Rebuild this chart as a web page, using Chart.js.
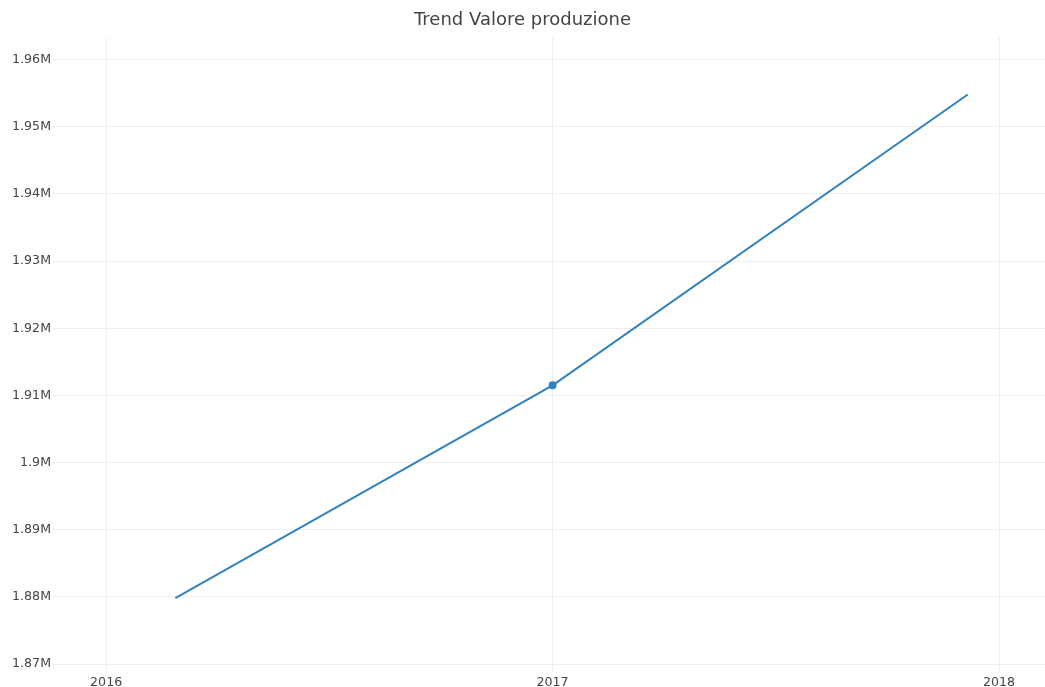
<!DOCTYPE html>
<html lang="it">
<head>
    <meta charset="UTF-8">
    <title>Trend Valore produzione</title>
    <script src="https://cdn.jsdelivr.net/npm/chart.js"></script>
    <style>
        body {
            margin: 0;
            padding: 0;
            background-color: #fff;
        }
        .container {
            width: 1045px;
            height: 687px;
            position: relative;
        }
    </style>
</head>
<body>

<div class="container">
    <canvas id="trendChart"></canvas>
</div>

<script>
    // data (x = year as decimal)
    const years = [2016.155, 2017, 2017.93];
    const valoreProduzione = [1879800, 1911500, 1954800];
    const xTicks = [2016, 2017, 2018];
    const yTicks = [1870000, 1880000, 1890000, 1900000, 1910000, 1920000, 1930000, 1940000, 1950000, 1960000];

    function formatM(v) {
        return parseFloat((v / 1e6).toFixed(2)) + 'M';
    }

    function plotChart() {
        const ctx = document.getElementById('trendChart').getContext('2d');
        const points = years.map((x, i) => ({ x: x, y: valoreProduzione[i] }));

        new Chart(ctx, {
            type: 'line',
            data: {
                datasets: [{
                    label: 'Valore produzione',
                    data: points,
                    borderColor: '#3182bd',
                    backgroundColor: '#3182bd',
                    borderWidth: 2,
                    pointRadius: [0, 3, 0],
                    pointHoverRadius: [0, 3, 0],
                    tension: 0
                }]
            },
            options: {
                responsive: true,
                maintainAspectRatio: false,
                animation: false,
                layout: { padding: 0 },
                plugins: {
                    legend: { display: false },
                    tooltip: { enabled: false },
                    title: {
                        display: true,
                        text: 'Trend Valore produzione',
                        color: '#444',
                        font: { family: 'DejaVu Sans', size: 18, weight: 'normal' },
                        padding: { top: 10, bottom: 6 }
                    }
                },
                scales: {
                    x: {
                        type: 'linear',
                        min: 2015.881,
                        max: 2018.103,
                        afterBuildTicks: s => { s.ticks = xTicks.map(v => ({ value: v })); },
                        afterFit: s => { s.height = 15; },
                        grid: { color: '#eee', drawTicks: false },
                        border: { display: false },
                        ticks: {
                            padding: 3,
                            color: '#444',
                            font: { family: 'DejaVu Sans', size: 12.6 },
                            callback: v => String(v)
                        }
                    },
                    y: {
                        min: 1868810,
                        max: 1963280,
                        afterBuildTicks: s => { s.ticks = yTicks.map(v => ({ value: v })); },
                        afterFit: s => { s.width = 53; },
                        grid: { color: '#eee', drawTicks: false },
                        border: { display: false },
                        ticks: {
                            padding: 2,
                            color: '#444',
                            font: { family: 'DejaVu Sans', size: 12.6 },
                            callback: v => formatM(v)
                        }
                    }
                }
            }
        });
    }

    document.addEventListener('DOMContentLoaded', plotChart);
</script>

</body>
</html>
